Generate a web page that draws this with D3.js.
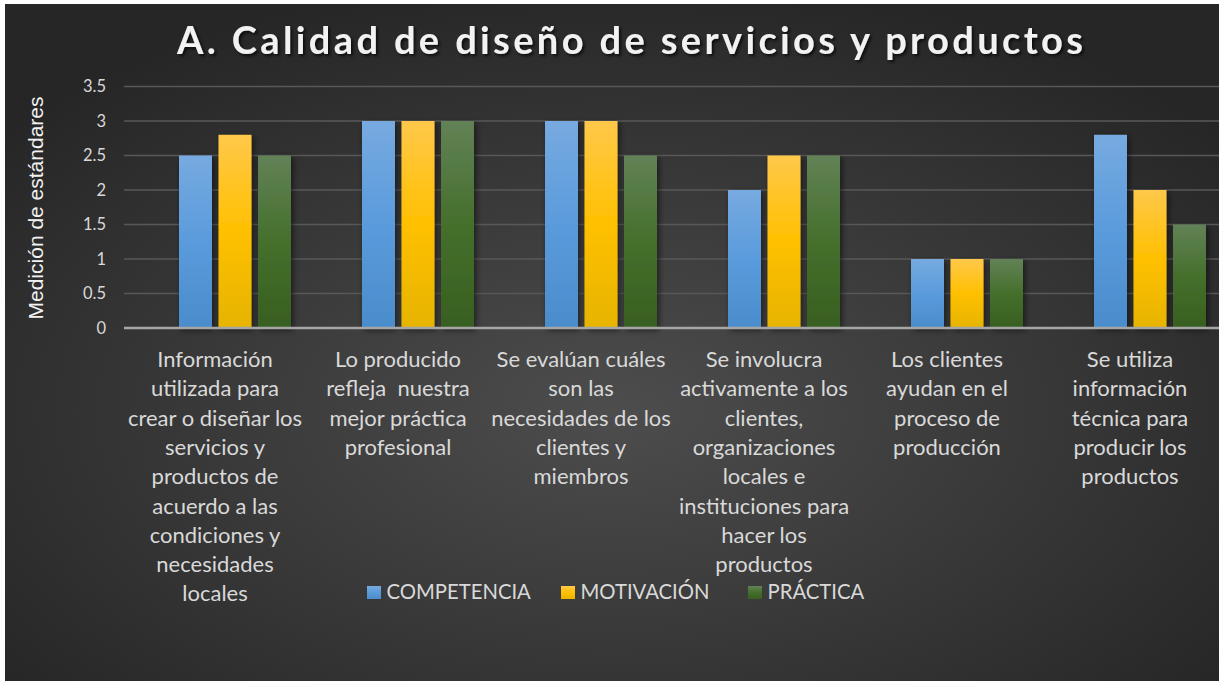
<!DOCTYPE html>
<html>
<head>
<meta charset="utf-8">
<script src="https://cdn.jsdelivr.net/npm/d3@7"></script>
<style>
  html, body { margin: 0; padding: 0; background: #fff; }
  svg { display: block; }
</style>
</head>
<body>
<div class="container"></div>
<script>
// data
const categories = [
  ["Información", "utilizada para", "crear o diseñar los", "servicios y", "productos de", "acuerdo a las", "condiciones y", "necesidades", "locales"],
  ["Lo producido", "refleja  nuestra", "mejor práctica", "profesional"],
  ["Se evalúan cuáles", "son las", "necesidades de los", "clientes y", "miembros"],
  ["Se involucra", "activamente a los", "clientes,", "organizaciones", "locales e", "instituciones para", "hacer los", "productos"],
  ["Los clientes", "ayudan en el", "proceso de", "producción"],
  ["Se utiliza", "información", "técnica para", "producir los", "productos"]
];
const seriesNames = ["COMPETENCIA", "MOTIVACIÓN", "PRÁCTICA"];
const competencia = [2.5, 3, 3, 2, 1, 2.8];
const motivacion  = [2.8, 3, 3, 2.5, 1, 2];
const practica    = [2.5, 3, 2.5, 2.5, 1, 1.5];
const yTicks = [0, 0.5, 1, 1.5, 2, 2.5, 3, 3.5];

const title = "A. Calidad de diseño de servicios y productos";
const yTitle = "Medición de estándares";

const w = 1219, h = 681;
const series = [competencia, motivacion, practica];

const svg = d3.select(".container")
  .append("svg")
  .attr("width", w)
  .attr("height", h);

const defs = svg.append("defs");

// background radial gradient
const bg = defs.append("radialGradient")
  .attr("id", "bg")
  .attr("cx", "50%").attr("cy", "60%").attr("r", "65%");
bg.append("stop").attr("offset", "0%").attr("stop-color", "#4d4d4d");
bg.append("stop").attr("offset", "100%").attr("stop-color", "#262626");

// bar gradients
const barColors = [
  ["#77aae0", "#5a9bdc", "#4a8ccc"],
  ["#ffc84a", "#ffc000", "#e6b400"],
  ["#628256", "#456f2c", "#385f20"]
];
barColors.forEach((c, i) => {
  const g = defs.append("linearGradient")
    .attr("id", "bar" + i)
    .attr("x1", 0).attr("y1", 0).attr("x2", 0).attr("y2", 1);
  g.append("stop").attr("offset", "0%").attr("stop-color", c[0]);
  g.append("stop").attr("offset", "50%").attr("stop-color", c[1]);
  g.append("stop").attr("offset", "100%").attr("stop-color", c[2]);
});

const shadow = defs.append("filter").attr("id", "shadow")
  .attr("x", "-30%").attr("y", "-30%").attr("width", "160%").attr("height", "160%");
shadow.append("feDropShadow")
  .attr("dx", 2).attr("dy", 2).attr("stdDeviation", 3)
  .attr("flood-color", "#000").attr("flood-opacity", 0.55);

const tshadow = defs.append("filter").attr("id", "tshadow")
  .attr("x", "-10%").attr("y", "-30%").attr("width", "120%").attr("height", "160%");
tshadow.append("feDropShadow")
  .attr("dx", 2).attr("dy", 2).attr("stdDeviation", 1.5)
  .attr("flood-color", "#000").attr("flood-opacity", 0.7);

svg.append("rect")
  .attr("x", 5).attr("y", 4)
  .attr("width", w - 5).attr("height", h - 4)
  .attr("fill", "url(#bg)");

// scales
const x = d3.scaleBand()
  .domain(d3.range(categories.length))
  .range([143.5, 1241.5])
  .paddingInner(0.388)
  .paddingOuter(0.194);

// category slots for the labels (plot area starts at the axis)
const xl = d3.scaleBand()
  .domain(d3.range(categories.length))
  .range([123.5, 1221.5]);

const xs = d3.scaleBand()
  .domain(d3.range(seriesNames.length))
  .range([0, x.bandwidth()])
  .paddingInner(0.165);

const y = d3.scaleLinear()
  .domain([0, 3.5])
  .range([328, 86.5]);

// gridlines + y ticks
const yAxis = svg.append("g")
  .attr("transform", "translate(124,0)")
  .call(d3.axisLeft(y).tickValues(yTicks).tickSize(0).tickPadding(18)
    .tickFormat(d3.format("")));
yAxis.select(".domain").remove();
yAxis.selectAll("text")
  .attr("fill", "#d9d9d9")
  .style("font-family", "Lato, 'Open Sans', sans-serif")
  .style("font-size", "16.5px");

svg.append("g")
  .selectAll("line")
  .data(yTicks.filter(d => d > 0))
  .join("line")
  .attr("x1", 124).attr("x2", w)
  .attr("y1", d => y(d)).attr("y2", d => y(d))
  .attr("stroke", "#585858")
  .attr("stroke-width", 1.5);

// bars
const groups = svg.append("g")
  .selectAll("g")
  .data(categories.map((c, i) => i))
  .join("g")
  .attr("transform", i => `translate(${x(i)},0)`);

groups.selectAll("rect")
  .data(i => series.map((s, k) => ({ k: k, v: s[i] })))
  .join("rect")
  .attr("x", d => xs(d.k))
  .attr("width", xs.bandwidth())
  .attr("y", d => y(d.v))
  .attr("height", d => y(0) - y(d.v))
  .attr("fill", d => `url(#bar${d.k})`)
  .attr("filter", "url(#shadow)");

// x axis line
svg.append("line")
  .attr("x1", 124).attr("x2", w)
  .attr("y1", y(0)).attr("y2", y(0))
  .attr("stroke", "#a6a6a6")
  .attr("stroke-width", 2.5);

// category labels
const labels = svg.append("g")
  .selectAll("text")
  .data(categories)
  .join("text")
  .attr("text-anchor", "middle")
  .attr("fill", "#d9d9d9")
  .style("font-family", "Lato, 'Open Sans', sans-serif")
  .style("font-size", "22px")
  .style("white-space", "pre")
  .attr("transform", (d, i) => `translate(${xl(i) + xl.bandwidth() / 2},367)`);

labels.selectAll("tspan")
  .data(d => d)
  .join("tspan")
  .attr("x", 0)
  .attr("y", (d, j) => j * 29.3)
  .text(d => d);

// title
svg.append("text")
  .attr("x", 177)
  .attr("y", 54)
  .attr("textLength", 906)
  .attr("lengthAdjust", "spacing")
  .attr("fill", "#f2f2f2")
  .attr("filter", "url(#tshadow)")
  .style("font-family", "Lato, 'Open Sans', sans-serif")
  .style("font-weight", "bold")
  .style("font-size", "38px")
  .text(title);

// y axis title
svg.append("text")
  .attr("transform", "translate(43,208) rotate(-90)")
  .attr("text-anchor", "middle")
  .attr("fill", "#f2f2f2")
  .style("font-family", "'Liberation Sans', Arial, sans-serif")
  .style("font-size", "21px")
  .text(yTitle);

// legend
const legendX = [367, 561, 748];
const legend = svg.append("g")
  .selectAll("g")
  .data(seriesNames)
  .join("g")
  .attr("transform", (d, i) => `translate(${legendX[i]},586)`);

legend.append("rect")
  .attr("width", 14).attr("height", 13)
  .attr("fill", (d, i) => `url(#bar${i})`);

legend.append("text")
  .attr("x", 19.5)
  .attr("y", 12.8)
  .attr("fill", "#d9d9d9")
  .style("font-family", "Lato, 'Open Sans', sans-serif")
  .style("font-size", "20.3px")
  .text(d => d);
</script>
</body>
</html>
